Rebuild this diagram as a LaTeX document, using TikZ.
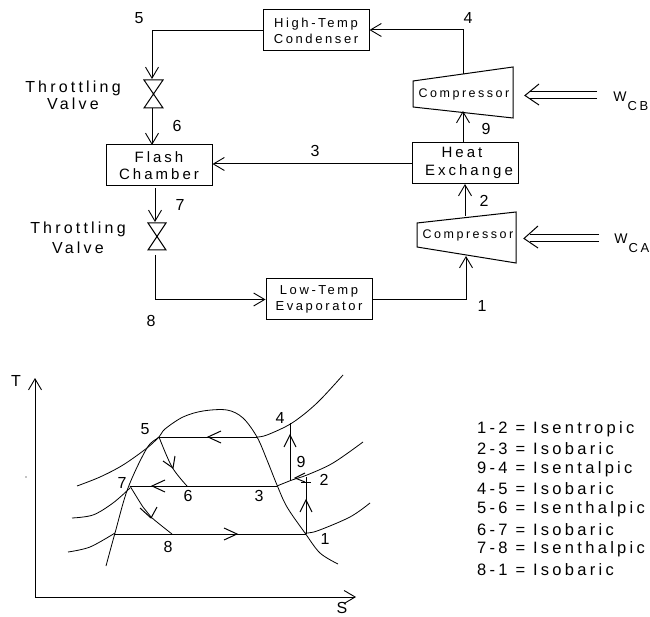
\documentclass[tikz,border=0pt]{standalone}
\usepackage{fontspec}
\setmainfont{Liberation Sans}
\newfontfamily\spf[LetterSpace=20]{Liberation Sans}
\usetikzlibrary{arrows.meta}
\tikzset{
  line/.style={draw=black,line width=1pt},
  opentip/.style={-{Straight Barb[length=11pt,width=13pt,line width=.9pt]}},
  smallbox/.style={draw=black,line width=1pt,minimum width=106pt,minimum height=41pt,align=center,inner sep=0pt,font=\spf\fontsize{13}{16}\selectfont},
  bigbox/.style={draw=black,line width=1pt,minimum width=106pt,minimum height=41pt,align=center,inner sep=0pt,font=\spf\fontsize{15}{17.5}\selectfont},
  lab/.style={inner sep=0pt,font=\spf\fontsize{16}{17}\selectfont,align=center},
  complab/.style={inner sep=0pt,font=\spf\fontsize{12.5}{14}\selectfont},
  legend/.style={inner sep=0pt,anchor=west,font=\spf\fontsize{16.5}{17}\selectfont},
  curve/.style={draw=black,line width=.8pt,smooth,tension=.55},
  cycle line/.style={draw=black,line width=1pt},
}
\begin{document}
\begin{tikzpicture}[x=1pt,y=-1pt]
\useasboundingbox (0,0) rectangle (650,617);
% boxes
\node[smallbox] (cond) at (316,30.5) {High-Temp\\Condenser};
\node[bigbox] (flash) at (159,165.5) {Flash\\Chamber};
\node[smallbox] (evap) at (319,299.5) {Low-Temp\\Evaporator};
\node[bigbox] (heat) at (465,163) {\hspace*{-6pt}Heat\\\hspace*{8pt}Exchange};
% compressors
\coordinate (cb1) at (413,81); \coordinate (cb2) at (513,67);
\coordinate (cb3) at (513,118); \coordinate (cb4) at (413,107);
\coordinate (ca1) at (417,223); \coordinate (ca2) at (516,212);
\coordinate (ca3) at (516,263); \coordinate (ca4) at (417,247);
\draw[line] (cb1)--(cb2)--(cb3)--(cb4)--cycle;
\draw[line] (ca1)--(ca2)--(ca3)--(ca4)--cycle;
\node[complab] (compb) at (464,94) {Compressor};
\node[complab] (compa) at (468,235) {Compressor};
% valves
\coordinate (v1a) at (144,80); \coordinate (v1b) at (163,80);
\coordinate (v1c) at (144,108); \coordinate (v1d) at (163,108);
\draw[line] (v1a)--(v1b)--(v1c)--(v1d)--cycle;
\coordinate (v2a) at (148,223); \coordinate (v2b) at (166,223);
\coordinate (v2c) at (148,250); \coordinate (v2d) at (166,250);
\draw[line] (v2a)--(v2b)--(v2c)--(v2d)--cycle;
% connectors
\coordinate (c5) at (152,31);
\coordinate (v1top) at (152,79);
\coordinate (v1bot) at (152,108);
\coordinate (f1) at (152,145);
\coordinate (f2) at (155,188);
\coordinate (v2top) at (155,222);
\coordinate (v2bot) at (155,255);
\coordinate (c8) at (155,299.5);
\coordinate (c1) at (466,300);
\coordinate (ca5) at (466,256);
\coordinate (ca6) at (465,216);
\coordinate (cb5) at (463,111);
\coordinate (cb6) at (463,74);
\coordinate (c4) at (463,30);
\coordinate (c3) at (412,164);
\draw[line,opentip] (cond.west |- c5) -- (c5) -- (v1top);
\draw[line,opentip] (v1bot) -- (f1);
\draw[line,opentip] (f2) -- (v2top);
\draw[line,opentip] (v2bot) -- (c8) -- (evap.west |- c8);
\draw[line,opentip] (evap.east |- c1) -- (c1) -- (ca5);
\draw[line,opentip] (ca6) -- (ca6 |- heat.south);
\draw[line,opentip] (cb5 |- heat.north) -- (cb5);
\draw[line,opentip] (cb6) -- (c4) -- (cond.east |- c4);
\draw[line,opentip] (c3) -- (flash.east |- c3);
% work arrows
\coordinate (wb) at (597,92); \coordinate (wb2) at (597,99); \coordinate (wbt) at (525,95.5);
\coordinate (wa) at (599,235); \coordinate (wa2) at (599,242); \coordinate (wat) at (524,238.5);
\draw[line] (wb) -- (530,92) (wb2) -- (530,99);
\draw[line] (wa) -- (530,235) (wa2) -- (530,242);
\draw[line] (539,84) -- (wbt) -- (539,105);
\draw[line] (538,226) -- (wat) -- (538,248);
% labels top
\node[lab] (l5) at (139,18) {5};
\node[lab] (l4) at (468,18) {4};
\node[lab] (l6) at (177,126) {6};
\node[lab] (l7) at (180,205) {7};
\node[lab] (l8) at (151,321) {8};
\node[lab] (l3) at (315,151) {3};
\node[lab] (l9) at (486,129) {9};
\node[lab] (l2) at (484,201) {2};
\node[lab] (l1) at (482,306) {1};
\node[lab] (tv1) at (73,95.5) {Throttling\\Valve};
\node[lab] (tv2) at (78,238) {Throttling\\[3pt]Valve};
\node[inner sep=0pt,font=\fontsize{14}{16}\selectfont] (wcb) at (620,97) {W};
\node[inner sep=0pt,font=\spf\fontsize{13}{16}\selectfont] (wcbs) at (638,106) {CB};
\node[inner sep=0pt,font=\fontsize{14}{16}\selectfont] (wca) at (621,239) {W};
\node[inner sep=0pt,font=\spf\fontsize{13}{16}\selectfont] (wcas) at (639,248) {CA};
% T-s axes
\coordinate (o) at (35,597); \coordinate (tt) at (35,378); \coordinate (st) at (356,597);
\draw[line,opentip] (o) -- (tt);
\draw[line,opentip] (o) -- (st);
\node[lab] (T) at (16,381) {T};
\node[lab] (S) at (342,608) {S};
\fill (26,477) circle (.7pt);
% dome
\draw[curve] plot coordinates {(106,566) (115,533) (128,488) (147,448) (159,437) (165,429) (183,417) (203,411) (227,410) (243,418) (257,437) (267,460) (277,485) (287,507) (305,533) (320,553) (338,564)};
% isobars
\draw[curve] plot coordinates {(77,486) (100,477) (123,465) (147,448) (159,437)};
\draw[curve] plot coordinates {(257,437) (267,435) (292,423) (317,403) (343,375)};
\draw[curve] plot coordinates {(72,518) (93,515) (113,503) (130,488)};
\draw[curve] plot coordinates {(277,486) (292,480) (307,475) (333,463) (363,442)};
\draw[curve] plot coordinates {(68,552) (90,547) (115,533)};
\draw[curve] plot coordinates {(305,533) (317,531) (350,517) (370,503)};
% cycle
\coordinate (p5) at (159,437); \coordinate (p3a) at (257,437);
\coordinate (p7) at (130,486); \coordinate (p3) at (277,486);
\coordinate (p8) at (115,534); \coordinate (p1) at (306,534);
\coordinate (p6) at (187,486); \coordinate (p8b) at (172,534);
\coordinate (p2) at (306,477); \coordinate (p9) at (290,480); \coordinate (p4) at (290,423);
\draw[cycle line] (p3a) -- (p5);
\draw[cycle line] (p3) -- (p7);
\draw[cycle line] (p8) -- (p1);
\draw[cycle line] (p1) -- (p2);
\draw[cycle line] (p9) -- (p4);
\draw[curve] plot coordinates {(p5) (172,467) (p6)};
\draw[curve] plot coordinates {(p7) (143,507) (151,517) (p8b)};
% arrow heads on the cycle
\draw[line] (221,431) -- (208,437) -- (221,443);
\draw[line] (165,480) -- (152,486) -- (165,492);
\draw[line] (224,528) -- (237,534) -- (224,540);
\draw[line] (300,512) -- (306,500) -- (312,512);
\draw[line] (284,447) -- (290,435) -- (296,447);
\draw[line] (163,461) -- (173,468) -- (175,456);
\draw[line] (140,508) -- (151,518) -- (157,507);
\draw[line] (305,473) -- (295,478) -- (305,482);
\draw[line] (301,482.5) -- (311,482.5);
% labels T-s
\node[lab] (g5) at (145,429) {5};
\node[lab] (g4) at (280,418) {4};
\node[lab] (g9) at (301,462) {9};
\node[lab] (g2) at (324,480) {2};
\node[lab] (g7) at (122,483) {7};
\node[lab] (g6) at (188,496) {6};
\node[lab] (g3) at (259,496) {3};
\node[lab] (g8) at (168,547) {8};
\node[lab] (g1) at (325,539) {1};
% legend
\node[legend] (a1) at (477,429) {1-2 = Isentropic};
\node[legend] (a2) at (477,449) {2-3 = Isobaric};
\node[legend] (a3) at (477,469) {9-4 = Isentalpic};
\node[legend] (a4) at (477,489) {4-5 = Isobaric};
\node[legend] (a5) at (477,509.5) {5-6 = Isenthalpic};
\node[legend] (a6) at (477,530) {6-7 = Isobaric};
\node[legend] (a7) at (477,549) {7-8 = Isenthalpic};
\node[legend] (a8) at (477,570) {8-1 = Isobaric};
\end{tikzpicture}
\end{document}
